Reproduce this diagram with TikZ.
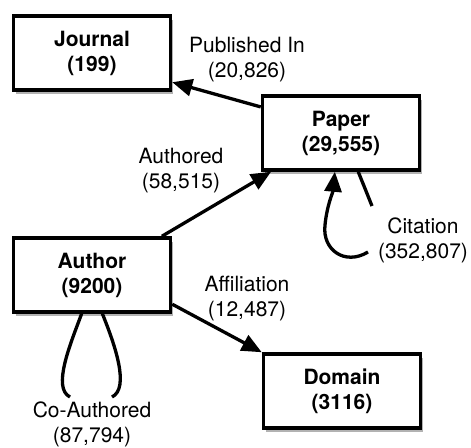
\documentclass[tikz,border=0pt]{standalone}
\usepackage{fontspec}
\setmainfont{TeX Gyre Heros}
\usetikzlibrary{arrows.meta,shadows}

\begin{document}
\begin{tikzpicture}[x=1pt,y=-1pt,
  entity/.style={draw, line width=3.5pt, fill=white, minimum width=157pt, minimum height=74pt,
    align=center, font=\fontsize{21}{25}\selectfont\bfseries,
    drop shadow={shadow xshift=2pt, shadow yshift=-4pt, opacity=0.3, fill=black}},
  rel/.style={align=center, font=\fontsize{21}{25}\selectfont},
  link/.style={line width=3.3pt, -{Triangle[length=20pt,width=17pt]}},
  loopline/.style={line width=3.3pt}]
\useasboundingbox (0,0) rectangle (471,447);

\node[entity] (journal) at (92,53) {Journal\\(199)};
\node[entity] (paper) at (341,133) {Paper\\(29,555)};
\node[entity] (author) at (92,275) {Author\\(9200)};
\node[entity] (domain) at (342,391) {Domain\\(3116)};

\node[rel] (published) at (247,60) {Published In\\(20,826)};
\node[rel] (authored) at (181,171) {Authored\\(58,515)};
\node[rel] (affiliation) at (247,299) {Affiliation\\(12,487)};
\node[rel] (citation) at (423,240) {Citation\\(352,807)};
\node[rel] (coauthored) at (92,424) {Co-Authored\\(87,794)};

\path[draw,link] (paper.162) -- (journal.-20);
\path[draw,link] (author.29) -- (paper.209);
\path[draw,link] (author.-20) -- (domain.north west);

\coordinate (citeout) at (372,206);
\coordinate (citein) at (368,252);
\path[draw,loopline] (paper.-66) -- (citeout);
\path[draw,link] (citein) .. controls (345,266) and (322,250) .. (325,225)
  .. controls (327,205) and (333,192) .. (paper.-99);

\coordinate (coleft) at (70,397);
\coordinate (coright) at (112,397);
\path[draw,loopline] (author.-105) .. controls (70,345) and (52,388) .. (coleft);
\path[draw,loopline] (author.-75) .. controls (115,345) and (130,388) .. (coright);
\end{tikzpicture}
\end{document}
